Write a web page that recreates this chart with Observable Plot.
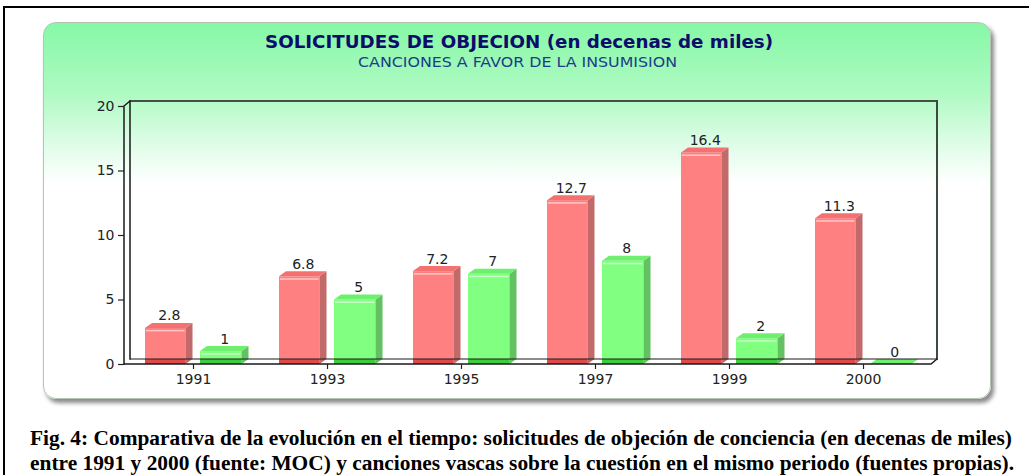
<!DOCTYPE html>
<html><head><meta charset="utf-8">
<script src="https://cdn.jsdelivr.net/npm/d3@7"></script>
<script src="https://cdn.jsdelivr.net/npm/@observablehq/plot@0.6"></script>
<style>
body{margin:0;width:1029px;height:475px;overflow:hidden;background:#fff;position:relative;font-family:"DejaVu Sans",sans-serif}
#outer{position:absolute;left:3px;top:6px;width:1100px;height:600px;border:2px solid #000;box-sizing:border-box}
#panel{position:absolute;left:43px;top:22px;width:948px;height:377px;border-radius:13px;border:1px solid #b4c4b4;box-sizing:border-box;
 background:linear-gradient(#86f8a6 0px,#aefac2 70px,#e2fdea 125px,#ffffff 160px);box-shadow:3px 4px 4px #8a8a8a}
#chart{position:absolute;left:0;top:0}
.t{position:absolute;line-height:1;white-space:nowrap}
#title{top:33px;font-weight:bold;font-size:18.3px;color:#0c0c6a}
#subtitle{top:56px;font-size:13.5px;color:#1c3c88}
.cap{position:absolute;left:30px;font-family:"Liberation Serif",serif;font-weight:bold;font-size:20px;line-height:1;white-space:nowrap;transform-origin:0 0;color:#000}
</style></head>
<body>
<div id="outer"></div>
<div id="panel"></div>
<div id="chart"></div>
<div class="t" id="title">SOLICITUDES DE OBJECION (en decenas de miles)</div>
<div class="t" id="subtitle">CANCIONES A FAVOR DE LA INSUMISION</div>
<div class="cap" id="cap1" style="top:428px">Fig. 4: Comparativa de la evolución en el tiempo: solicitudes de objeción de conciencia (en decenas de miles)</div>
<div class="cap" id="cap2" style="top:453px">entre 1991 y 2000 (fuente: MOC) y canciones vascas sobre la cuestión en el mismo periodo (fuentes propias).</div>
<script>
// ---- data ----
const years = ["1991", "1993", "1995", "1997", "1999", "2000"];
const objeciones = [2.8, 6.8, 7.2, 12.7, 16.4, 11.3];
const canciones = [1, 5, 7, 8, 2, 0];
const yTicks = [0, 5, 10, 15, 20];

// ---- styles (not data) ----
const series = [
  {name: "objeciones", values: objeciones, front: "#ff8080", side: "#c26a6a", top: "#f57070", hl: "#ffc8c8", base: "#de4a4a", insetLeft: 19, insetRight: 74.5, labelDx: -24.25},
  {name: "canciones", values: canciones, front: "#80ff80", side: "#62c262", top: "#6ef06e", hl: "#c8ffc8", base: "#3ccc3c", insetLeft: 74, insetRight: 18.5, labelDx: 31.25}
];
const tables = series.map(s => years.map((year, i) => ({year, value: s.values[i]})));
const BD = [7, -5];   // bar depth
const FD = [6, -5];   // frame depth

function frameBack(index, scales, values, dims) {
  const {y} = scales;
  const X0 = dims.marginLeft, X1 = dims.width - dims.marginRight;
  const Y0 = y(0), Yt = y(20);
  const g = d3.create("svg:g").attr("fill", "none").attr("stroke-linecap", "square");
  g.append("path").attr("fill", "#fff").attr("stroke", "none")
    .attr("d", `M${X0},${Y0}L${X1},${Y0}L${X1 + FD[0]},${Y0 + FD[1]}L${X0 + FD[0]},${Y0 + FD[1]}Z`);
  g.append("path").attr("stroke", "#1a1a1a").attr("stroke-width", 1.5)
    .attr("d", `M${X0 + FD[0]},${Y0 + FD[1]}L${X0 + FD[0]},${Yt + FD[1]}L${X1 + FD[0]},${Yt + FD[1]}`);
  g.append("path").attr("stroke", "#3c4a40").attr("stroke-width", 2)
    .attr("d", `M${X1 + FD[0]},${Yt + FD[1]}L${X1 + FD[0]},${Y0 + FD[1]}`);
  g.append("path").attr("stroke", "#1a1a1a").attr("stroke-width", 1.5)
    .attr("d", `M${X0},${Y0}L${X0},${Yt}L${X0 + FD[0]},${Yt + FD[1]}`);
  return g.node();
}

function barFaces(index, scales, values, dims) {
  const {x, y} = scales;
  const X0 = dims.marginLeft, X1 = dims.width - dims.marginRight;
  const Y0 = y(0);
  const g = d3.create("svg:g");
  series.forEach((s, si) => {
    tables[si].forEach(d => {
      const x1 = x(d.year) + s.insetLeft;
      const x2 = x(d.year) + x.bandwidth() - s.insetRight;
      const yt = y(d.value);
      g.append("path").attr("fill", s.side)
        .attr("d", `M${x2},${yt}L${x2 + BD[0]},${yt + BD[1]}L${x2 + BD[0]},${Y0 + BD[1]}L${x2},${Y0}Z`);
      g.append("path").attr("fill", s.top)
        .attr("d", `M${x1},${yt}L${x1 + BD[0]},${yt + BD[1]}L${x2 + BD[0]},${yt + BD[1]}L${x2},${yt}Z`);
      if (Y0 - yt > 6) {
        g.append("rect").attr("x", x1 + 1).attr("y", yt + 2).attr("width", x2 - x1 - 2).attr("height", 1.5).attr("fill", s.hl);
      }
      const h = Math.min(5, Y0 - yt);
      if (h > 0) g.append("rect").attr("x", x1).attr("y", Y0 - h).attr("width", x2 - x1).attr("height", h).attr("fill", s.base);
    });
  });
  g.append("path").attr("fill", "none").attr("stroke", "#1a1a1a").attr("stroke-width", 1.2)
    .attr("d", `M${X0 + FD[0]},${Y0 + FD[1]}L${X1 + FD[0]},${Y0 + FD[1]}`);
  g.append("path").attr("fill", "none").attr("stroke", "#1a1a1a").attr("stroke-width", 1.5)
    .attr("d", `M${X0},${Y0}L${X1},${Y0}L${X1 + FD[0]},${Y0 + FD[1]}`);
  return g.node();
}

const chart = Plot.plot({
  width: 1029, height: 400,
  marginLeft: 124, marginRight: 98, marginTop: 106, marginBottom: 36,
  style: {background: "transparent", overflow: "visible", fontFamily: "DejaVu Sans, sans-serif"},
  x: {type: "band", domain: years, padding: 0},
  y: {domain: [0, 20]},
  marks: [
    frameBack,
    ...series.map((s, si) => Plot.barY(tables[si], {x: "year", y: "value", fill: s.front, insetLeft: s.insetLeft, insetRight: s.insetRight})),
    barFaces,
    ...series.map((s, si) => Plot.text(tables[si], {x: "year", y: "value", text: d => String(d.value), dx: s.labelDx, dy: -8, lineAnchor: "bottom", fontSize: 14, fill: "#222"})),
    Plot.axisY({ticks: yTicks, tickSize: 6, tickPadding: 4, fontSize: 14, color: "#222", label: null, strokeWidth: 1.2}),
    Plot.axisX({tickSize: 5, tickPadding: 5, fontSize: 14, color: "#222", label: null, strokeWidth: 1.2})
  ]
});
document.getElementById("chart").appendChild(chart);

function fitBox(id, left, w) {
  const el = document.getElementById(id);
  el.style.left = left + "px";
  const cw = el.getBoundingClientRect().width;
  el.style.transformOrigin = "0 0";
  el.style.transform = `scaleX(${w / cw})`;
}
fitBox("title", 265, 508);
fitBox("subtitle", 358, 319);
fitBox("cap1", 30, 982);
fitBox("cap2", 30, 984);
</script>
</body></html>
